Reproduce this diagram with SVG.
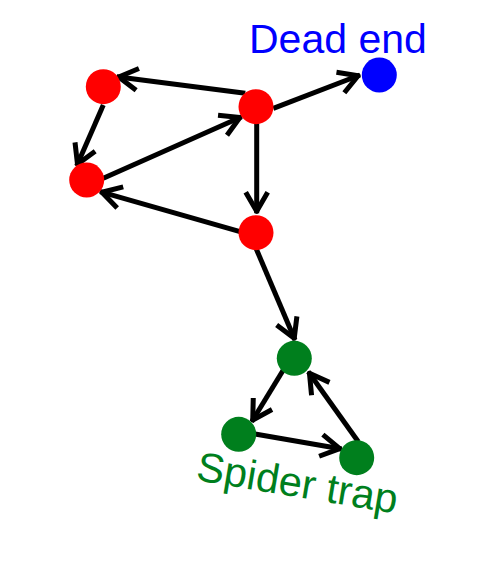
<svg xmlns="http://www.w3.org/2000/svg" width="492" height="580" viewBox="0 0 492 580">
  <defs>
    <marker id="arrow" markerUnits="userSpaceOnUse" markerWidth="30" markerHeight="30" refX="0" refY="0" orient="auto" overflow="visible">
      <path d="M-21,-11 L-2,0 L-21,11" fill="none" stroke="#000" stroke-width="5" stroke-linejoin="round" stroke-linecap="butt"/>
    </marker>
  </defs>
  <style>
    .edge { stroke: #000; stroke-width: 5; fill: none; marker-end: url(#arrow); }
    .red { fill: #ff0000; }
    .blue { fill: #0000ff; }
    .green { fill: #007f1d; }
    .label { font-family: "Liberation Sans", Arial, sans-serif; font-size: 41px; }
  </style>
  <rect width="492" height="580" fill="#fff"/>
  <g id="connectors">
    <line class="edge" x1="245.3" y1="93.3" x2="116.7" y2="76.7"/>
    <line class="edge" x1="103.3" y1="105" x2="76.7" y2="166"/>
    <line class="edge" x1="103.3" y1="178.3" x2="241.7" y2="116.7"/>
    <line class="edge" x1="273.3" y1="108.3" x2="360" y2="75"/>
    <line class="edge" x1="256.7" y1="123.3" x2="256.7" y2="213.3"/>
    <line class="edge" x1="240" y1="231.7" x2="100" y2="191.7"/>
    <line class="edge" x1="256" y1="248.3" x2="295" y2="340"/>
    <line class="edge" x1="283.3" y1="370" x2="251.7" y2="421.7"/>
    <line class="edge" x1="255" y1="434" x2="341.7" y2="449"/>
    <line class="edge" x1="358.3" y1="441.7" x2="308.3" y2="371.7"/>
  </g>
  <g id="node-a"><circle class="red" cx="103.3" cy="86.7" r="17.5"/></g>
  <g id="node-b"><circle class="red" cx="256" cy="106.7" r="17.5"/></g>
  <g id="node-c"><circle class="red" cx="86.7" cy="180" r="17.5"/></g>
  <g id="node-d"><circle class="red" cx="256" cy="232.7" r="17.5"/></g>
  <g id="node-dead-end">
    <circle class="blue" cx="379.3" cy="75" r="17.5"/>
    <text class="label" x="249" y="53" fill="#0000ff">Dead end</text>
  </g>
  <g id="node-trap-top"><circle class="green" cx="294.3" cy="358.3" r="17.5"/></g>
  <g id="node-trap-left"><circle class="green" cx="238.7" cy="434.3" r="17.5"/></g>
  <g id="node-trap-right"><circle class="green" cx="356.7" cy="457.7" r="17.5"/></g>
  <text class="label" x="195" y="480" fill="#007f1d" transform="rotate(9.5 195 480)" style="font-size:41.5px">Spider trap</text>
</svg>
